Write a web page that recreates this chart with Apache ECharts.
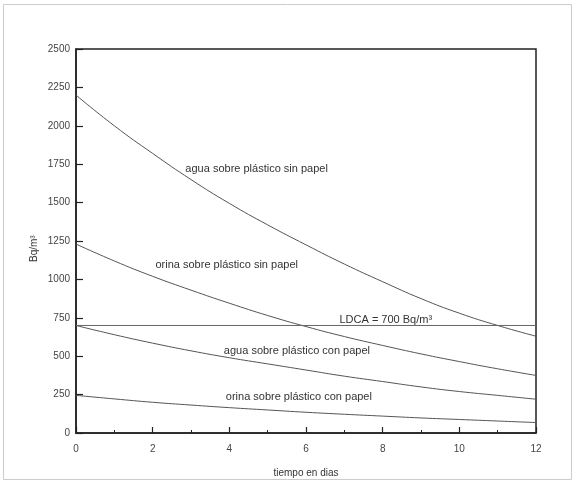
<!DOCTYPE html>
<html>
<head>
<meta charset="utf-8">
<script src="https://cdn.jsdelivr.net/npm/echarts@6/dist/echarts.min.js"></script>
<style>
html,body{margin:0;padding:0;background:#fff;}
#c{width:575px;height:483px;}
</style>
</head>
<body>
<div id="c"></div>
<script>
// Data
var days = [0,1,2,3,4,5,6,7,8,9,10,11,12];
var aguaSinPapel  = [2200,2000,1820,1650,1495,1355,1225,1100,985,875,780,700,630];
var orinaSinPapel = [1230,1120,1020,930,845,765,693,628,570,515,465,418,375];
var aguaConPapel  = [700,640,585,535,490,450,410,370,335,300,270,245,220];
var orinaConPapel = [245,222,200,182,165,150,135,122,110,98,88,78,68];
var ldca = 700;
var xTicks = [0,2,4,6,8,10,12];
var yTicks = [0,250,500,750,1000,1250,1500,1750,2000,2250,2500];
var seriesNames = ['agua sobre plástico sin papel','orina sobre plástico sin papel','agua sobre plástico con papel','orina sobre plástico con papel'];
var ldcaLabel = 'LDCA = 700 Bq/m³';
var xName = 'tiempo en dias';
var yName = 'Bq/m³';

function pairs(vals){ return days.map(function(d,i){ return [d, vals[i]]; }); }

var font = '"Liberation Sans", Arial, sans-serif';
var lineStyle = {color:'#555', width:1};
var chart = echarts.init(document.getElementById('c'));

function mk(name, vals){
  return {name:name, type:'line', data:pairs(vals), smooth:true, showSymbol:false, symbol:'none',
          lineStyle:lineStyle, silent:true, animation:false};
}

var option = {
  animation:false,
  backgroundColor:'#fff',
  grid:{left:76, right:39, top:49, bottom:47, show:true, borderColor:'#222', borderWidth:1.5, backgroundColor:'transparent'},
  xAxis:{type:'value', min:0, max:12, interval:2,
    name:xName, nameLocation:'middle', nameGap:35,
    nameTextStyle:{fontFamily:font, fontSize:10, color:'#333'},
    axisLine:{lineStyle:{color:'#222', width:1.5}},
    axisTick:{inside:true, length:6, lineStyle:{color:'#222', width:1.2}},
    minorTick:{show:true, splitNumber:2, length:3, lineStyle:{color:'#222', width:1}},
    axisLabel:{fontFamily:font, fontSize:10, color:'#444', margin:11,
      formatter:function(v){ return xTicks.indexOf(v)>=0 ? String(v) : ''; }},
    splitLine:{show:false}},
  yAxis:{type:'value', min:0, max:2500, interval:250,
    axisLine:{show:true, lineStyle:{color:'#222', width:1.5}},
    axisTick:{show:true, inside:true, length:7, lineStyle:{color:'#222', width:1.2}},
    axisLabel:{fontFamily:font, fontSize:10, color:'#444', margin:6,
      formatter:function(v){ return yTicks.indexOf(v)>=0 ? String(v) : ''; }},
    splitLine:{show:false}},
  series:[
    mk(seriesNames[0], aguaSinPapel),
    mk(seriesNames[1], orinaSinPapel),
    mk(seriesNames[2], aguaConPapel),
    mk(seriesNames[3], orinaConPapel),
    {name:'LDCA', type:'line', data:[[days[0], ldca],[days[days.length-1], ldca]], showSymbol:false, symbol:'none',
      lineStyle:{color:'#666', width:1}, silent:true, animation:false}
  ]
};
chart.setOption(option);

// Annotations anchored in data coordinates (right end of text)
var notes = [
  {text:seriesNames[0], at:[6.57,1718]},
  {text:seriesNames[1], at:[5.79,1091]},
  {text:ldcaLabel,      at:[9.29,733]},
  {text:seriesNames[2], at:[7.67,536]},
  {text:seriesNames[3], at:[7.72,232]}
];
var g = [];
notes.forEach(function(n){
  var p = chart.convertToPixel({gridIndex:0}, n.at);
  g.push({type:'text', x:p[0], y:p[1], silent:true,
    style:{text:n.text, fill:'#333', font:'11px '+font, align:'right', verticalAlign:'middle'}});
});
var yp = chart.convertToPixel({gridIndex:0}, [0,1200]);
g.push({type:'text', x:yp[0]-42, y:yp[1], rotation:Math.PI/2, silent:true,
  style:{text:yName, fill:'#333', font:'10px '+font, align:'center', verticalAlign:'middle'}});
g.push({type:'rect', shape:{x:3.5, y:4.5, width:568, height:475}, silent:true, z:-1,
  style:{fill:'none', stroke:'#ccc', lineWidth:1}});
chart.setOption({graphic:g});
</script>
</body>
</html>
